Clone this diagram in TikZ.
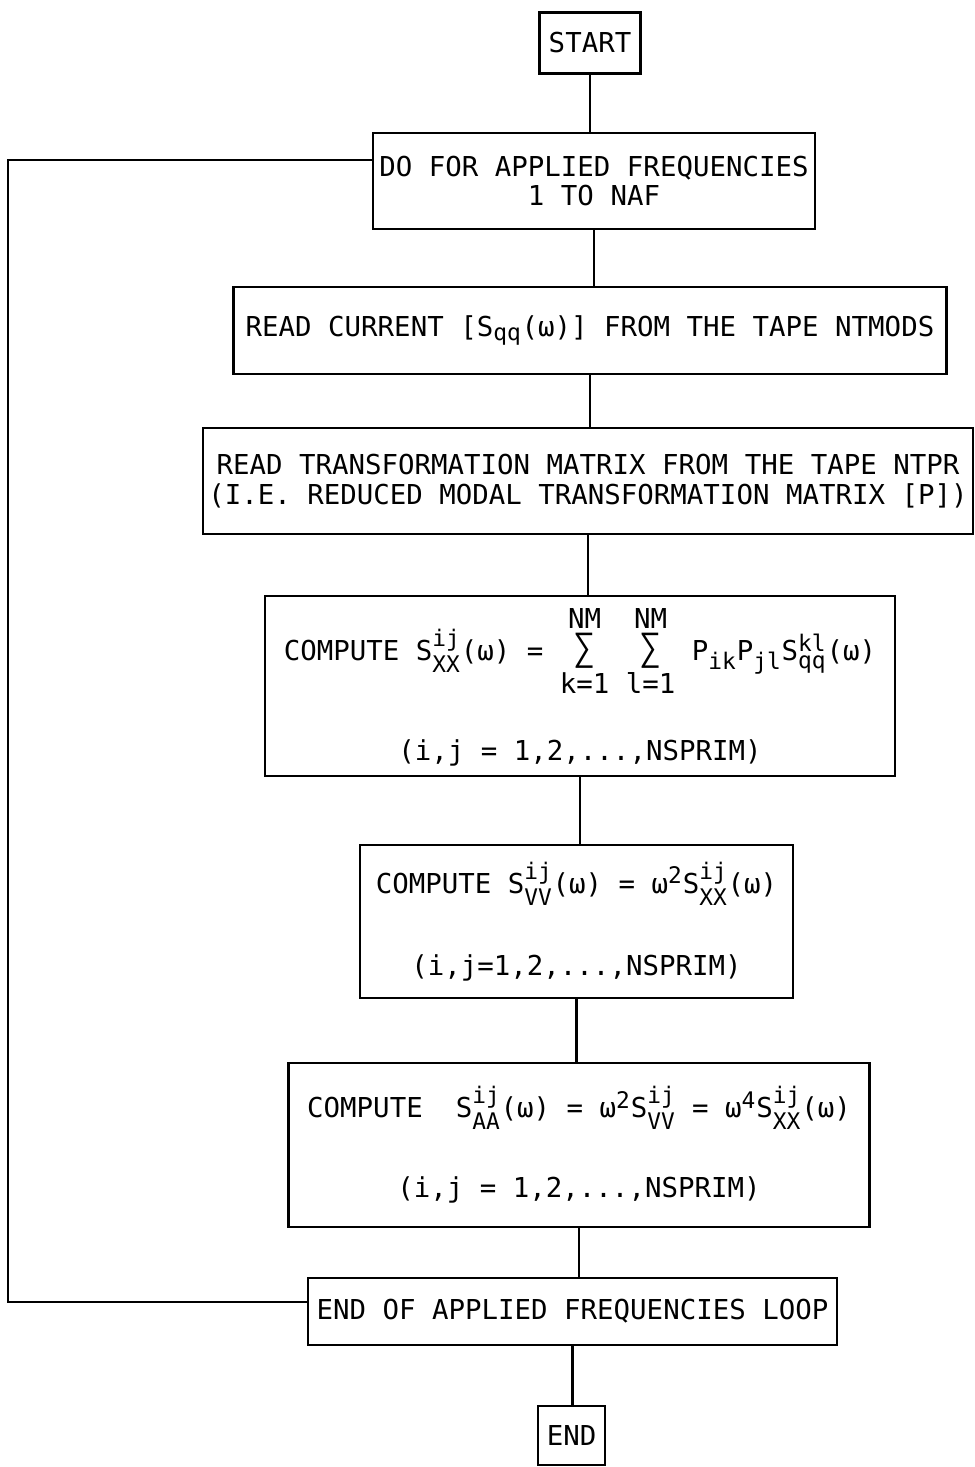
\documentclass[tikz,border=0pt]{standalone}
\usepackage{amsmath}
\usepackage{fontspec}
\setmainfont{DejaVu Sans Mono}
\setmonofont{DejaVu Sans Mono}
\DeclareMathSizes{15.6}{15.6}{13}{10}
\newcommand{\dsum}[1]{$\mathop{\mbox{\fontsize{21}{21}\selectfont ∑}}\limits^{\mbox{NM}}_{\mbox{#1=1}}$}
\newcommand{\Sij}[1]{S$^{\text{ij}}_{\text{#1}}$}

\begin{document}
\begin{tikzpicture}[every node/.style={font=\fontsize{15.6}{17}\selectfont},
  box/.style={draw, line width=1.2pt, align=center, inner sep=0pt},
  flow/.style={line width=1.2pt}]
\useasboundingbox (0,0) rectangle (19.48,-29.34);
% boxes of the frequency loop
\node[box, minimum width=2.02cm, minimum height=1.22cm] (start) at (11.8,-0.86) {START};
\node[box, minimum width=8.84cm, minimum height=1.92cm] (doloop) at (11.88,-3.62) {DO FOR APPLIED FREQUENCIES\\1 TO NAF};
\node[box, minimum width=14.26cm, minimum height=1.74cm] (readsqq) at (11.8,-6.61) {READ CURRENT [S$_{\text{qq}}$(ω)] FROM THE TAPE NTMODS};
\node[box, minimum width=15.4cm, minimum height=2.12cm] (readp) at (11.76,-9.62) {READ TRANSFORMATION MATRIX FROM THE TAPE NTPR\\(I.E. REDUCED MODAL TRANSFORMATION MATRIX [P])};
\node[box, minimum width=12.6cm, minimum height=3.6cm] (sxx) at (11.6,-13.72) {COMPUTE \Sij{XX}(ω) = \dsum{k} \dsum{l} P$_{\text{ik}}$P$_{\text{jl}}$S$^{\text{kl}}_{\text{qq}}$(ω)\\[24pt](i,j = 1,2,...,NSPRIM)};
\node[box, minimum width=8.66cm, minimum height=3.06cm] (svv) at (11.53,-18.43) {COMPUTE \Sij{VV}(ω) = ω$^{\text{2}}$\Sij{XX}(ω)\\[27pt](i,j=1,2,...,NSPRIM)};
\node[box, minimum width=11.62cm, minimum height=3.28cm] (saa) at (11.58,-22.9) {COMPUTE~~\Sij{AA}(ω) = ω$^{\text{2}}$\Sij{VV} = ω$^{\text{4}}$\Sij{XX}(ω)\\[26pt](i,j = 1,2,...,NSPRIM)};
\node[box, minimum width=10.58cm, minimum height=1.34cm] (endloop) at (11.45,-26.23) {END OF APPLIED FREQUENCIES LOOP};
\node[box, minimum width=1.34cm, minimum height=1.18cm] (stop) at (11.43,-28.71) {END};
% connectors
\draw[flow] (start) -- (start |- doloop.north);
\draw[flow] (doloop) -- (doloop |- readsqq.north);
\draw[flow] (readsqq) -- (readsqq |- readp.north);
\draw[flow] (readp) -- (readp |- sxx.north);
\draw[flow] (sxx) -- (sxx |- svv.north);
\draw[flow] (svv) -- (svv |- saa.north);
\draw[flow] (saa) -- (saa |- endloop.north);
\draw[flow] (endloop) -- (endloop |- stop.north);
% back to the top of the loop
\coordinate (back) at (0.16,-15);
\draw[flow] ([yshift=0.19cm]endloop.west) -| (back) |- ([yshift=0.42cm]doloop.west);
\end{tikzpicture}
\end{document}
